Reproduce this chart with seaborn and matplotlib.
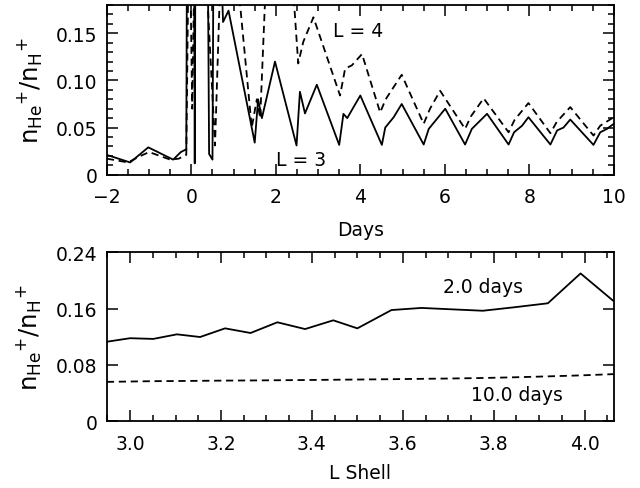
import matplotlib
matplotlib.use("Agg")
import matplotlib.pyplot as plt
from matplotlib.ticker import MultipleLocator, FixedLocator
import seaborn as sns
import pandas as pd

# ---- top panel data (days vs ratio) ----
days_L3 = [-2.0, -1.45, -1.02, -0.43, -0.25, -0.12, -0.10, 0.06, 0.08, 0.10, 0.38, 0.42, 0.50, 0.53,
           0.65, 0.75, 0.88, 1.50, 1.58, 1.67, 1.98, 2.49, 2.57, 2.69, 2.97, 3.50, 3.60, 3.69, 3.84,
           4.00, 4.51, 4.59, 4.79, 4.98, 5.50, 5.62, 5.81, 6.01, 6.48, 6.64, 6.80, 7.00, 7.51, 7.64,
           7.83, 7.98, 8.50, 8.66, 8.81, 8.97, 9.52, 9.68, 9.84, 10.0]
ratio_L3 = [0.021, 0.013, 0.029, 0.016, 0.024, 0.027, 0.30, 0.30, 0.012, 0.30, 0.30, 0.022, 0.016, 0.30,
            0.30, 0.162, 0.174, 0.034, 0.080, 0.060, 0.120, 0.031, 0.088, 0.065, 0.0955, 0.0316, 0.0645, 0.060, 0.0717,
            0.084, 0.0316, 0.050, 0.061, 0.075, 0.032, 0.0486, 0.059, 0.070, 0.032, 0.0486, 0.0557, 0.0646, 0.032, 0.045,
            0.052, 0.061, 0.032, 0.047, 0.050, 0.0585, 0.0316, 0.045, 0.0486, 0.054]

days_L4 = [-2.0, -1.5, -1.2, -1.0, -0.5, -0.3, -0.12, -0.05, 0.02, 0.10, 0.25, 0.56, 0.75, 0.90,
           1.43, 1.55, 1.63, 1.85, 2.25, 2.53, 2.65, 2.89, 3.52, 3.64, 3.80, 4.04, 4.47, 4.60, 4.98,
           5.50, 5.65, 5.89, 6.48, 6.62, 6.92, 7.51, 7.65, 7.98, 8.50, 8.65, 8.97, 9.52, 9.68, 10.0]
ratio_L4 = [0.017, 0.013, 0.020, 0.024, 0.016, 0.017, 0.021, 0.30, 0.070, 0.30, 0.30, 0.031, 0.30, 0.30,
            0.050, 0.080, 0.060, 0.30, 0.30, 0.118, 0.141, 0.167, 0.084, 0.1125, 0.116, 0.128, 0.066, 0.080, 0.106,
            0.054, 0.070, 0.089, 0.0486, 0.062, 0.081, 0.045, 0.058, 0.076, 0.044, 0.056, 0.0717, 0.0415, 0.052, 0.061]

# ---- bottom panel data (L shell vs ratio) ----
lshell = [2.949, 3.0, 3.051, 3.103, 3.154, 3.209, 3.265, 3.324, 3.385, 3.447, 3.5, 3.575,
          3.641, 3.708, 3.776, 3.846, 3.919, 3.991, 4.064]
ratio_2days = [0.113, 0.118, 0.117, 0.1235, 0.1197, 0.132, 0.1254, 0.1406, 0.131, 0.1434, 0.132, 0.158,
               0.161, 0.159, 0.157, 0.162, 0.1676, 0.210, 0.1705]
ratio_10days = [0.056, 0.0565, 0.057, 0.0572, 0.0575, 0.0578, 0.058, 0.0583, 0.0586, 0.059, 0.0593, 0.0598,
                0.0603, 0.0608, 0.0615, 0.0625, 0.0638, 0.0652, 0.067]

sns.set_theme(style="ticks")
plt.rcParams['font.family'] = ['DejaVu Sans']
plt.rcParams['mathtext.default'] = 'regular'
plt.rcParams['text.color'] = 'black'
plt.rcParams['axes.labelcolor'] = 'black'

fig = plt.figure(figsize=(6.4, 4.89), dpi=100)
ax1 = fig.add_axes([0.167, 0.6407, 0.792, 0.347])
ax2 = fig.add_axes([0.167, 0.1364, 0.792, 0.3456])

dash = (0, (4, 2.6))
df3 = pd.DataFrame({"d": days_L3, "r": ratio_L3})
df4 = pd.DataFrame({"d": days_L4, "r": ratio_L4})
sns.lineplot(data=df3, x="d", y="r", ax=ax1, color="black", lw=1.3, estimator=None, sort=False)
sns.lineplot(data=df4, x="d", y="r", ax=ax1, color="black", lw=1.3, estimator=None, sort=False,
             linestyle=dash)

dfb = pd.DataFrame({"L": lshell, "a": ratio_2days, "b": ratio_10days})
sns.lineplot(data=dfb, x="L", y="a", ax=ax2, color="black", lw=1.3, estimator=None, sort=False)
sns.lineplot(data=dfb, x="L", y="b", ax=ax2, color="black", lw=1.3, estimator=None, sort=False,
             linestyle=dash)

fs = 13.5
yfs = 17.5
ylab = r'$n_{He}{}^{+}/n_{H}{}^{+}$'

ax1.set_xlim(-2, 10)
ax1.set_ylim(0, 0.18)
ax1.xaxis.set_major_locator(MultipleLocator(2))
ax1.xaxis.set_minor_locator(MultipleLocator(0.5))
ax1.yaxis.set_major_locator(FixedLocator([0, 0.05, 0.10, 0.15]))
ax1.yaxis.set_minor_locator(MultipleLocator(0.01))
ax1.set_yticklabels(["0", "0.05", "0.10", "0.15"])
ax1.set_xlabel("Days", fontsize=fs, labelpad=10)
ax1.set_ylabel(ylab, fontsize=yfs, labelpad=8)
ax1.text(3.95, 0.153, "L = 4", fontsize=fs, ha="center", va="center")
ax1.text(2.6, 0.016, "L = 3", fontsize=fs, ha="center", va="center")

ax2.set_xlim(2.949, 4.064)
ax2.set_ylim(0, 0.24)
ax2.xaxis.set_major_locator(FixedLocator([3.0, 3.2, 3.4, 3.6, 3.8, 4.0]))
ax2.xaxis.set_minor_locator(MultipleLocator(0.05))
ax2.set_xticklabels(["3.0", "3.2", "3.4", "3.6", "3.8", "4.0"])
ax2.yaxis.set_major_locator(FixedLocator([0, 0.08, 0.16, 0.24]))
ax2.set_yticklabels(["0", "0.08", "0.16", "0.24"])
ax2.yaxis.set_minor_locator(FixedLocator([]))
ax2.set_xlabel("L Shell", fontsize=fs, labelpad=7)
ax2.set_ylabel(ylab, fontsize=yfs, labelpad=8)
ax2.text(3.776, 0.191, "2.0 days", fontsize=fs, ha="center", va="center")
ax2.text(3.85, 0.038, "10.0 days", fontsize=fs, ha="center", va="center")

for ax in (ax1, ax2):
    for s in ax.spines.values():
        s.set_visible(True)
        s.set_linewidth(1.3)
        s.set_color("black")
    ax.tick_params(which="both", direction="in", top=True, right=True, colors="black",
                   labelsize=fs, width=1.1, labelcolor="black")
    ax.tick_params(which="major", length=8)
    ax.tick_params(which="minor", length=4)
    ax.tick_params(axis="x", which="major", pad=9)
    ax.tick_params(axis="y", which="major", pad=7)
    ax.set_facecolor("white")

fig.savefig("out.png", dpi=100, facecolor="white")
